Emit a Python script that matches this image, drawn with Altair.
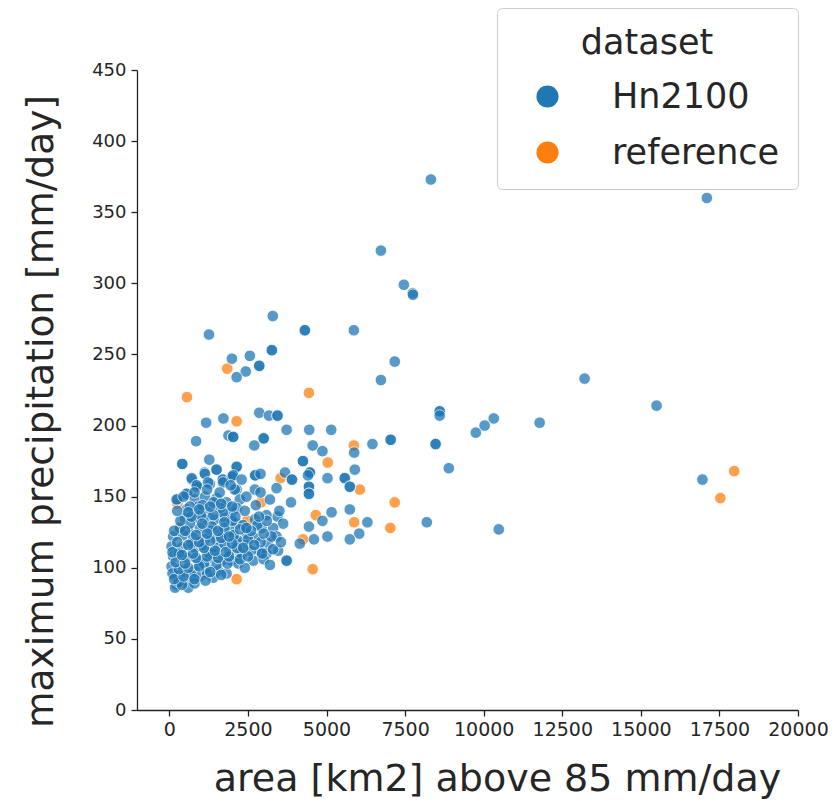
import altair as alt
import pandas as pd

# ---- data ----
hn_area = [
    8320, 17100, 6730, 7460, 7740, 7750, 3290, 4310, 4310, 5870, 1260, 3260, 3260,
    2560, 1990, 2860, 2860, 2430, 2140, 7170, 6730, 13210, 15500, 8600, 8600, 8600,
    10320, 10030, 9750, 11780, 8470, 8470, 8890, 7040, 7040, 6460, 8190, 10480, 16960,
    2860, 3170, 3440, 3440, 1170, 1720, 3730, 4450, 5150, 1880, 2030, 2030, 3000, 3000,
    850, 2700, 4560, 4870, 5880, 410, 410, 1270, 4250, 4250, 2140, 2140, 5900, 1120,
    1500, 1500, 3680, 4470, 4470, 2730, 2730, 2900, 720, 1700, 1700, 1990, 1990, 3900,
    3900, 5030, 5580, 5580, 870, 870, 1290, 3410, 4440, 4440, 4440, 4440, 5740, 5740,
    2140, 2720, 2900, 260, 550, 3870, 2750, 5160, 4870, 5740, 6300, 4440, 6040, 5740,
    5030, 4600, 4150, 3730, 3730,
    1130, 710, 870, 1230, 1710, 2030, 2080, 550, 230, 810, 1130, 1500, 1820, 2240,
    550, 920, 1230, 1610, 1980, 490, 810, 1130, 1450, 1770, 2140, 600, 970, 1290,
    1610, 1920, 120, 440, 760, 1130, 1500, 1820, 2140, 70, 390, 810, 1180, 1550,
    1920, 2240, 120, 550, 920, 1290, 1660, 1980, 70, 440, 810, 1180, 1550, 1820,
    180, 550, 970, 1390, 230, 600, 180,
    2300, 4410, 2140, 3440, 3090, 2720, 2350, 3620, 3300, 2930, 3410, 2460, 2720,
    2190, 3140, 2460, 2880, 3460, 2300, 3090, 2670, 2190,
    330, 650, 1000, 1350, 1750, 2000, 300, 700, 1050, 1400, 1750, 2050, 350, 700,
    1100, 1500, 1850, 300, 800, 1200, 100, 400, 650, 1050, 1400, 1700, 2400, 2500,
    2600, 2900, 3250, 3000, 2400, 2800, 3100,
    150, 450, 800, 1150, 300, 600, 950, 1300, 1650, 200, 500, 850, 1200, 1550, 1900,
    2250, 100, 400, 750, 1100, 1450, 1800, 2150, 2500, 250, 600, 950, 1300, 1650,
    2000, 2350, 2700, 150, 500, 850, 1200, 1550, 1900, 2250, 2600, 3000, 350, 700,
    1050, 1400, 1750, 2100, 2450, 2850, 250, 600, 950, 1300, 1650, 2000, 450, 800,
    1200, 1600, 1950, 2450, 3200, 3500, 3300, 3550, 2950, 3200,
]
hn_precip = [
    373, 360, 323, 299, 293, 292, 277, 267, 267, 267, 264, 253, 253,
    249, 247, 242, 242, 238, 234, 245, 232, 233, 214, 210, 210, 207,
    205, 200, 195, 202, 187, 187, 170, 190, 190, 187, 132, 127, 162,
    209, 207, 207, 207, 202, 205, 197, 197, 197, 193, 192, 192, 191, 191,
    189, 186, 186, 182, 181, 173, 173, 176, 175, 175, 171, 171, 169, 167,
    169, 169, 167, 167, 167, 165, 165, 166, 162, 162, 162, 164, 164, 162,
    162, 163, 163, 163, 157, 157, 159, 156, 157, 157, 152, 152, 157, 157,
    155, 155, 153, 148, 152, 146, 144, 139, 133, 141, 132, 129, 124, 120,
    122, 120, 117, 105, 105,
    166, 163, 158, 160, 160, 165, 155, 152, 148, 148, 150, 149, 146, 148,
    141, 143, 139, 142, 139, 135, 135, 134, 134, 135, 131, 126, 128, 126,
    125, 126, 122, 123, 121, 120, 120, 121, 118, 115, 114, 114, 112, 114,
    112, 111, 108, 107, 105, 107, 105, 105, 101, 98, 98, 100, 98, 96,
    94, 91, 94, 93, 88, 86, 86,
    162, 165, 142, 136, 137, 134, 130, 131, 128, 128, 122, 124, 121,
    119, 117, 116, 112, 112, 110, 110, 105, 103,
    128, 131, 137, 129, 128, 133, 110, 117, 116, 110, 117, 123, 95, 95,
    103, 102, 103, 90, 89, 96, 96, 88, 143, 144, 146, 139, 140, 120,
    112, 118, 122, 106, 100, 130, 133,
    92, 94, 92, 91, 99, 100, 101, 97, 95, 104, 103, 107, 108, 107, 108,
    106, 111, 109, 110, 114, 112, 111, 114, 108, 118, 116, 118, 119, 121,
    117, 114, 116, 126, 126, 123, 124, 126, 122, 127, 126, 124, 133, 136,
    131, 137, 132, 136, 128, 136, 140, 139, 141, 143, 145, 143, 150, 153,
    155, 153, 158, 150, 148, 140, 113, 118, 110, 102,
]
ref_area = [560, 4440, 1840, 2140, 5870, 5040, 6060, 7170, 7030, 5880, 4660,
            4560, 2140, 4250, 3540, 2910, 2470, 260, 360, 17970, 17530]
ref_precip = [220, 223, 240, 203, 186, 174, 155, 146, 128, 132, 137,
              99, 92, 120, 163, 146, 133, 145, 129, 168, 149]

datasets = ["Hn2100", "reference"]
colors = ["#1f77b4", "#ff7f0e"]
x_ticks = [0, 2500, 5000, 7500, 10000, 12500, 15000, 17500, 20000]
y_ticks = [0, 50, 100, 150, 200, 250, 300, 350, 400, 450]

df = pd.concat([
    pd.DataFrame({"area": ref_area, "precip": ref_precip, "dataset": "reference"}),
    pd.DataFrame({"area": hn_area, "precip": hn_precip, "dataset": "Hn2100"}),
], ignore_index=True)

FONT = "DejaVu Sans"
TXT = "#262626"

chart = alt.Chart(df).mark_point(
    filled=True, size=135, opacity=0.74, stroke="white", strokeWidth=1, strokeOpacity=0.9
).encode(
    x=alt.X("area:Q",
            scale=alt.Scale(domain=[-1030, 20000], nice=False, zero=False),
            axis=alt.Axis(values=x_ticks, format="d", title="area [km2] above 85 mm/day",
                          grid=False, labelFontSize=19, titleFontSize=38,
                          tickSize=6, labelPadding=4, labelOverlap=False, labelFlush=False,
                          titleX=360, titleY=80, titleBaseline="alphabetic",
                          titleAlign="center")),
    y=alt.Y("precip:Q",
            scale=alt.Scale(domain=[0, 450], nice=False),
            axis=alt.Axis(values=y_ticks, format="d", title="maximum precipitation [mm/day]",
                          grid=False, labelFontSize=18, titleFontSize=37.5,
                          tickSize=6, labelPadding=5, labelOverlap=False, labelFlush=False,
                          titleX=-85, titleY=341, titleBaseline="alphabetic",
                          titleAlign="center", titleAngle=270)),
    color=alt.Color("dataset:N",
                    scale=alt.Scale(domain=datasets, range=colors),
                    legend=alt.Legend(title="dataset", orient="none", legendX=360, legendY=-62)),
).properties(
    width=661, height=640,
    autosize=alt.AutoSizeParams(type="none"),
    padding={"left": 129, "top": 62, "right": 30, "bottom": 90},
).configure_view(
    stroke=None
).configure_axis(
    labelFont=FONT, titleFont=FONT, labelColor=TXT, titleColor=TXT,
    domainColor="#222222", tickColor="#222222", domainWidth=1.3, tickWidth=1.3,
    titleFontWeight="normal",
).configure_legend(
    labelFont=FONT, titleFont=FONT, labelColor=TXT, titleColor=TXT,
    titleFontSize=35, labelFontSize=35, titleFontWeight="normal",
    symbolSize=490, symbolType="circle", symbolOpacity=1, symbolStrokeWidth=0,
    padding=18, symbolOffset=15, labelOffset=47, rowPadding=20, titlePadding=18,
    strokeColor="#cccccc", cornerRadius=5, fillColor="white",
    titleAnchor="middle", labelLimit=400,
)

chart.save("out.html", embed_options={"renderer": "svg", "actions": False})
